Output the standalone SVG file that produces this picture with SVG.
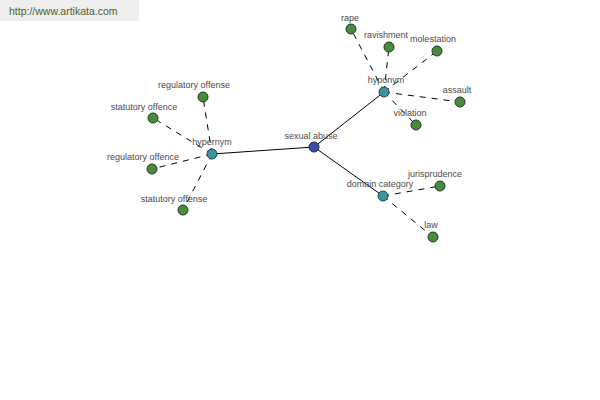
<svg xmlns="http://www.w3.org/2000/svg" width="600" height="400" viewBox="0 0 600 400">
<style>
  .solid { stroke: #000; stroke-width: 1; fill: none; }
  .dash { stroke: #000; stroke-width: 1; stroke-dasharray: 6,6; fill: none; }
  .leaf { fill: #4a8a3e; stroke: #1f3a1a; stroke-width: 1; }
  .rel { fill: #3a9499; stroke: #1d4a4d; stroke-width: 1; }
  .root { fill: #3f4ea6; stroke: #1d2552; stroke-width: 1; }
  text { font-family: "Liberation Sans", Arial, sans-serif; font-size: 9px; fill: #4a4a4a; text-anchor: middle; }
  .wm { font-size: 10.5px; fill: #4f5e2a; text-anchor: start; }
</style>
<rect x="0" y="0" width="600" height="400" fill="#fff"/>
<rect x="0" y="0" width="139" height="21" fill="#eeeeee"/>
<text class="wm" x="9" y="15">http://www.artikata.com</text>
<g id="connectors">
  <line class="solid" x1="314" y1="147" x2="212" y2="154"/>
  <line class="solid" x1="314" y1="147" x2="384" y2="92"/>
  <line class="solid" x1="314" y1="147" x2="383" y2="196"/>
  <line class="dash" x1="212" y1="154" x2="203" y2="97"/>
  <line class="dash" x1="212" y1="154" x2="153" y2="118"/>
  <line class="dash" x1="212" y1="154" x2="152" y2="169"/>
  <line class="dash" x1="212" y1="154" x2="183" y2="210"/>
  <line class="dash" x1="384" y1="92" x2="351" y2="29"/>
  <line class="dash" x1="384" y1="92" x2="389" y2="47"/>
  <line class="dash" x1="384" y1="92" x2="437" y2="51"/>
  <line class="dash" x1="384" y1="92" x2="460" y2="102"/>
  <line class="dash" x1="384" y1="92" x2="416" y2="125"/>
  <line class="dash" x1="383" y1="196" x2="440" y2="186"/>
  <line class="dash" x1="383" y1="196" x2="433" y2="237"/>
</g>
<g id="sexual-abuse"><circle class="root" cx="314" cy="147" r="5"/><text x="311" y="139">sexual abuse</text></g>
<g id="hypernym"><circle class="rel" cx="212" cy="154" r="5"/><text x="212" y="145">hypernym</text></g>
<g id="hyponym"><circle class="rel" cx="384" cy="92" r="5"/><text x="386" y="83">hyponym</text></g>
<g id="domain-category"><circle class="rel" cx="383" cy="196" r="5"/><text x="380" y="187">domain category</text></g>
<g id="regulatory-offense"><circle class="leaf" cx="203" cy="97" r="5"/><text x="194" y="88">regulatory offense</text></g>
<g id="statutory-offence"><circle class="leaf" cx="153" cy="118" r="5"/><text x="144" y="110">statutory offence</text></g>
<g id="regulatory-offence"><circle class="leaf" cx="152" cy="169" r="5"/><text x="143" y="160">regulatory offence</text></g>
<g id="statutory-offense"><circle class="leaf" cx="183" cy="210" r="5"/><text x="174" y="202">statutory offense</text></g>
<g id="rape"><circle class="leaf" cx="351" cy="29" r="5"/><text x="350" y="21">rape</text></g>
<g id="ravishment"><circle class="leaf" cx="389" cy="47" r="5"/><text x="386" y="38">ravishment</text></g>
<g id="molestation"><circle class="leaf" cx="437" cy="51" r="5"/><text x="433" y="42">molestation</text></g>
<g id="assault"><circle class="leaf" cx="460" cy="102" r="5"/><text x="457" y="93">assault</text></g>
<g id="violation"><circle class="leaf" cx="416" cy="125" r="5"/><text x="410" y="116">violation</text></g>
<g id="jurisprudence"><circle class="leaf" cx="440" cy="186" r="5"/><text x="435" y="177">jurisprudence</text></g>
<g id="law"><circle class="leaf" cx="433" cy="237" r="5"/><text x="431" y="228">law</text></g>
</svg>
